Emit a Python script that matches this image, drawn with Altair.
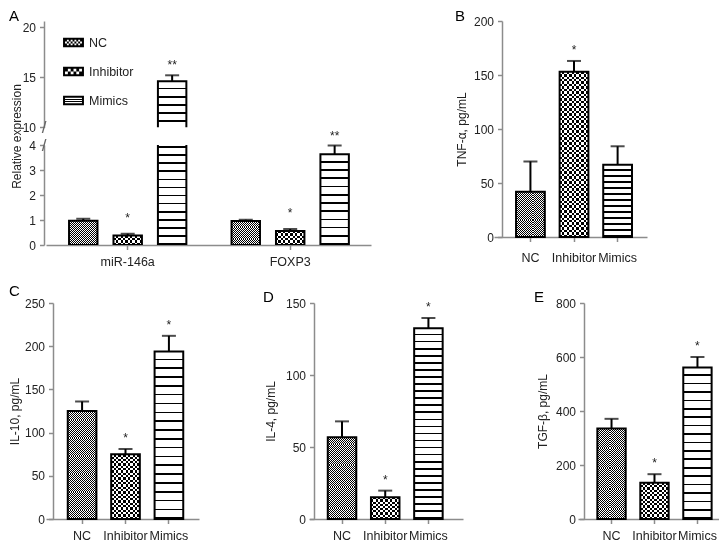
import altair as alt
import pandas as pd

# ---------------- data ----------------
groups = ["NC", "Inhibitor", "Mimics"]
genes = ["miR-146a", "FOXP3"]

mir_mean = [0.97, 0.38, 14.6]
mir_err = [0.08, 0.07, 0.6]
foxp3_mean = [0.96, 0.56, 3.63]
foxp3_err = [0.05, 0.08, 0.35]
a_sig = ["", "*", "**"]

tnf_mean = [42, 153, 67]
tnf_err = [28, 10, 17]
tnf_sig = ["", "*", ""]

il10_mean = [125, 75, 194]
il10_err = [11, 6, 18]
il10_sig = ["", "*", "*"]

il4_mean = [56.8, 15.1, 132.4]
il4_err = [11, 4.6, 7.2]
il4_sig = ["", "*", "*"]

tgf_mean = [335, 134, 561]
tgf_err = [36, 32, 39]
tgf_sig = ["", "*", "*"]

axis_break = [10, 4]

# ---------------- style ----------------
FONT = "Liberation Sans"
BAR_W = 28.6
SQ = {"NC": 2.1, "Inhibitor": 4.8}


def _rect(x0, y0, x1, y1, cw=True):
    f = lambda v: f"{v:.3f}"
    if cw:
        return f"M{f(x0)},{f(y0)}H{f(x1)}V{f(y1)}H{f(x0)}Z"
    return f"M{f(x0)},{f(y0)}V{f(y1)}H{f(x1)}V{f(y0)}Z"


def legend_symbol(kind):
    """Legend swatch as an SVG path: solid frame, patterned interior (nonzero fill)."""
    ox, oy, b = 1.1, 0.5, 0.21
    ix, iy = ox - b, oy - b
    p = _rect(-ox, -oy, ox, oy) + _rect(-ix, -iy, ix, iy, cw=False)
    if kind == "Mimics":
        for yc in (-0.1, 0.1):
            p += _rect(-ix, yc - 0.06, ix, yc + 0.06)
        return p
    rows, cols = (3, 9) if kind == "NC" else (2, 6)
    w, h = 2 * ix / cols, 2 * iy / rows
    for r in range(rows):
        for c in range(cols):
            if (r + c) % 2 == 0:
                p += _rect(-ix + c * w, -iy + r * h, -ix + (c + 1) * w, -iy + (r + 1) * h)
    return p


def grad(n, ca, cb, frac_a=0.5, horizontal_bands=True):
    stops = []
    for k in range(n):
        a0 = k / n
        a1 = (k + frac_a) / n
        a2 = (k + 1) / n
        stops += [(a0, ca), (a1, ca), (a1, cb), (a2, cb)]
    return {"gradient": "linear", "x1": 0, "y1": 0,
            "x2": 0 if horizontal_bands else 1, "y2": 1 if horizontal_bands else 0,
            "stops": [{"offset": round(min(max(o, 0), 1), 5), "color": c} for o, c in stops]}


def stripe_fill(hpx, stripe_px):
    n = max(1, round(hpx / stripe_px))
    step = hpx / n
    return grad(n, "white", "black", max(0.05, 1 - 1.6 / step))


def pattern_layers(data, enc, g, val, ppu, stripe_px, clip=False):
    hpx = max(val * ppu, 1)
    src = alt.Chart(data)
    if g == "Mimics":
        return [src.mark_bar(fill=stripe_fill(hpx, stripe_px), clip=clip).encode(**enc)]
    sq = SQ[g]
    base = src.mark_bar(fill=grad(max(1, round(hpx / sq)), "black", "white")).encode(**enc)
    over = src.mark_bar(fill=grad(max(1, round(BAR_W / sq)), "white", "black", horizontal_bands=False),
                        blend="difference").encode(**enc)
    return [base, over]


def make_df(mean, err, sig, extra=None):
    d = pd.DataFrame({"group": groups, "mean": mean, "err": err, "sig": sig})
    d["hi"] = d["mean"] + d["err"]
    if extra:
        for k, v in extra.items():
            d[k] = v
    return d


def letter_title(letter, dx, offset):
    return alt.TitleParams(letter, anchor="start", frame="group", dx=dx, offset=offset,
                           fontSize=15, fontWeight="normal", color="black", font=FONT)


def simple_panel(mean, err, sig, ymax, ticks, title, letter, width, titleX, y_off,
                 stripe_px, pad_outer, align, label_pad=6, letter_dx=-40, letter_off=-12):
    height = 216
    ppu = height / ymax
    df = make_df(mean, err, sig)
    xs = alt.X("group:N", sort=groups,
               scale=alt.Scale(domain=groups, paddingInner=0.34, paddingOuter=pad_outer, align=align),
               axis=alt.Axis(title=None, labelAngle=0, labelPadding=label_pad, labelFontSize=12.5))

    def Y(field):
        return alt.Y(field + ":Q", scale=alt.Scale(domain=[0, ymax], nice=False),
                     axis=alt.Axis(values=ticks, title=title, titleX=titleX, labelPadding=4,
                                   labelOverlap=False, offset=y_off))

    enc = dict(x=xs, y=Y("mean"))
    layers = []
    for g, v in zip(groups, mean):
        layers += pattern_layers(df[df.group == g], enc, g, v, ppu, stripe_px)
    base = alt.Chart(df)
    layers.append(base.mark_bar(fillOpacity=0, stroke="black", strokeWidth=2).encode(**enc))
    layers.append(base.mark_rule(color="black", strokeWidth=2).encode(x=xs, y=Y("mean"), y2="hi:Q"))
    layers.append(base.mark_tick(color="black", thickness=2, size=14).encode(x=xs, y=Y("hi")))
    layers.append(base.mark_text(dy=-11, fontSize=12, color="#222", font=FONT).encode(
        x=xs, y=Y("hi"), text="sig:N"))
    return alt.layer(*layers).properties(width=width, height=height,
                                         title=letter_title(letter, letter_dx, letter_off))


# ---------------- Panel A (broken axis) ----------------
dfa = pd.concat([
    make_df(mir_mean, mir_err, a_sig, {"gene": "miR-146a"}),
    make_df(foxp3_mean, foxp3_err, a_sig, {"gene": "FOXP3"}),
], ignore_index=True)

A_W = 325
UP_TOP = 20.63   # a little headroom above 20 so the panel lines up with B
UP_H = 106.3


def a_axes(domain, ticks, axis_x, ytitle=None):
    xs = alt.X("gene:N", sort=genes,
               scale=alt.Scale(domain=genes, paddingInner=0.278, paddingOuter=0.139, align=0.51),
               axis=alt.Axis(title=None, labelAngle=0, labelPadding=6, labelFontSize=12.5) if axis_x else None)
    xo = alt.XOffset("group:N", sort=groups,
                     scale=alt.Scale(domain=groups, paddingInner=0.36, paddingOuter=0))
    if ytitle:
        yax = alt.Axis(values=ticks, title=ytitle, labelPadding=4, titleX=-21, titleY=-9,
                       labelOverlap=False, offset=2)
    else:
        yax = alt.Axis(values=ticks, title=None, labelPadding=4, labelOverlap=False, offset=2)

    def Y(field):
        return alt.Y(field + ":Q", scale=alt.Scale(domain=domain, nice=False), axis=yax)
    return xs, xo, Y


def a_marks(data, xs, xo, Y, clip_rule=False):
    out = [alt.Chart(data).mark_rule(color="black", strokeWidth=2, clip=clip_rule).encode(
        x=xs, xOffset=xo, y=Y("mean"), y2="hi:Q"),
        alt.Chart(data).mark_tick(color="black", thickness=2, size=14).encode(
        x=xs, xOffset=xo, y=Y("hi"))]
    inh = data[data.group == "Inhibitor"]
    mim = data[data.group == "Mimics"]
    if len(inh):
        out.append(alt.Chart(inh).mark_text(dy=-16, fontSize=12, color="#222", font=FONT).encode(
            x=xs, xOffset=xo, y=Y("hi"), text="sig:N"))
    if len(mim):
        out.append(alt.Chart(mim).mark_text(dy=-10, fontSize=12, color="#222", font=FONT).encode(
            x=xs, xOffset=xo, y=Y("hi"), text="sig:N"))
    return out


brk = pd.DataFrame({"v": axis_break, "part": ["upper", "lower"]})


def slash(part, Y):
    return alt.Chart(brk[brk.part == part]).mark_text(
        text="/", fontSize=17, color="#666", font=FONT, dy=1).encode(x=alt.value(-2), y=Y("v"))


# upper part 10..20
xs, xo, Y = a_axes([10, UP_TOP], [10, 15, 20], False)
encU = dict(x=xs, xOffset=xo, y=Y("mean"))
up_layers = [
    # legend carrier: points sit below the 10..20 window and are clipped away
    alt.Chart(dfa).mark_point(clip=True, filled=True, color="black", opacity=1, size=361).encode(
        x=xs, xOffset=xo, y=Y("err"),
        shape=alt.Shape("group:N", sort=groups,
                        scale=alt.Scale(domain=groups, range=[legend_symbol(g) for g in groups]),
                        legend=alt.Legend(title=None, orient="none", legendX=18, legendY=12,
                                          symbolSize=361, symbolStrokeWidth=0,
                                          symbolFillColor="black",
                                          labelFontSize=12.5, labelFont=FONT, labelColor="#222",
                                          rowPadding=13, labelOffset=6, padding=0)))
]
mim_up = dfa[(dfa.group == "Mimics") & (dfa.gene == "miR-146a")]
up_layers.append(alt.Chart(mim_up).mark_bar(
    clip=True, fill=stripe_fill(mim_up["mean"].iloc[0] * 10, 8.2)).encode(**encU))
up_layers.append(alt.Chart(dfa).mark_bar(clip=True, fillOpacity=0, stroke="black", strokeWidth=2).encode(**encU))
up_layers += a_marks(dfa[dfa.hi >= 10], xs, xo, Y, clip_rule=True)
up_layers.append(slash("upper", Y))
upper = alt.layer(*up_layers).properties(width=A_W, height=UP_H, title=letter_title("A", -37, -3))

# lower part 0..4
xs, xo, Y = a_axes([0, 4], [0, 1, 2, 3, 4], True, "Relative expression")
encL = dict(x=xs, xOffset=xo, y=Y("mean"))
low_layers = []
for gene in genes:
    sub = dfa[dfa.gene == gene]
    for g in groups:
        row = sub[sub.group == g]
        low_layers += pattern_layers(row, encL, g, row["mean"].iloc[0], 25, 8.2, clip=True)
low_layers.append(alt.Chart(dfa).mark_bar(clip=True, fillOpacity=0, stroke="black", strokeWidth=2).encode(**encL))
low_layers += a_marks(dfa[dfa.hi < 10], xs, xo, Y)
low_layers.append(slash("lower", Y))
lower = alt.layer(*low_layers).properties(width=A_W, height=100)

panelA = alt.vconcat(upper, lower, spacing=17, bounds="flush")

# ---------------- Panels B-E ----------------
panelB = simple_panel(tnf_mean, tnf_err, tnf_sig, 200, [0, 50, 100, 150, 200], "TNF-α, pg/mL", "B",
                      153, -34, -8, 6.2, 0.425, 0.595, label_pad=10, letter_dx=-39, letter_off=-9)
panelC = simple_panel(il10_mean, il10_err, il10_sig, 250, [0, 50, 100, 150, 200, 250], "IL-10, pg/mL", "C",
                      153, -32, -7, 9.0, 0.432, 0.58, letter_dx=-37, letter_off=-2)
panelD = simple_panel(il4_mean, il4_err, il4_sig, 150, [0, 50, 100, 150], "IL-4, pg/mL", "D",
                      154, -37, -5, 7.0, 0.4525, 0.48, letter_dx=-46, letter_off=-8)
panelE = simple_panel(tgf_mean, tgf_err, tgf_sig, 800, [0, 200, 400, 600, 800], "TGF-β, pg/mL", "E",
                      141, -35, -6, 8.4, 0.311, 0.724, letter_dx=-44, letter_off=-8)

row1 = alt.hconcat(panelA, panelB, spacing=84)
row2 = alt.hconcat(alt.hconcat(panelC, panelD, spacing=64), panelE, spacing=71)

chart = alt.vconcat(row1, row2, spacing=16).properties(
    padding={"left": 0, "right": 0, "top": 1, "bottom": 0}).configure_view(
    stroke=None).configure_axis(
    domainColor="#8c8c8c", tickColor="#8c8c8c", domainWidth=1.5, tickWidth=1.5, tickSize=4.5,
    labelColor="#222", titleColor="#222", labelFontSize=12, titleFontSize=12,
    titleFontWeight="normal", grid=False, labelFont=FONT, titleFont=FONT).configure_text(font=FONT)

chart.save("out.html", embed_options={"renderer": "svg", "actions": False})
